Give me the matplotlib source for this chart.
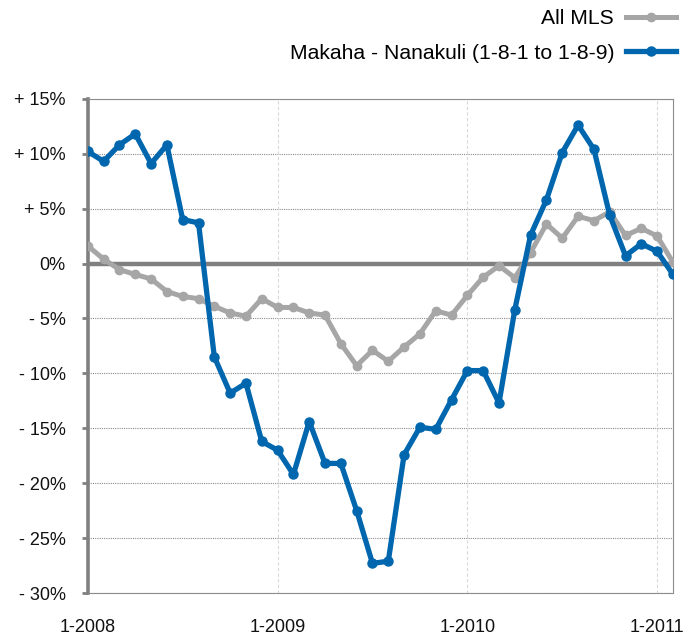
import matplotlib.pyplot as plt
import numpy as np

plt.rcParams['font.family'] = ['Liberation Sans', 'DejaVu Sans']

# monthly values, Jan 2008 .. Feb 2011 (percent change)
all_mls = [1.6, 0.4, -0.55, -1.0, -1.4, -2.55, -3.0, -3.2, -3.9, -4.5,
           -4.8, -3.2, -4.0, -4.0, -4.5, -4.7, -7.3, -9.3, -7.9, -8.9,
           -7.6, -6.4, -4.3, -4.7, -2.9, -1.25, -0.2, -1.3, 1.0, 3.6,
           2.3, 4.3, 3.9, 4.7, 2.55, 3.2, 2.5, 0.1]
makaha = [10.2, 9.3, 10.8, 11.8, 9.1, 10.8, 4.0, 3.7, -8.5, -11.8,
          -10.9, -16.2, -17.0, -19.2, -14.4, -18.2, -18.2, -22.5, -27.3, -27.1,
          -17.4, -14.9, -15.1, -12.4, -9.75, -9.75, -12.7, -4.2, 2.6, 5.8,
          10.1, 12.6, 10.4, 4.4, 0.7, 1.8, 1.1, -1.0]
x_labels = ['1-2008', '1-2009', '1-2010', '1-2011']
y_ticks = [15, 10, 5, 0, -5, -10, -15, -20, -25, -30]
y_labels = ['+ 15%', '+ 10%', '+ 5%', '0%', '- 5%', '- 10%', '- 15%', '- 20%', '- 25%', '- 30%']

months = np.arange(len(makaha))

fig = plt.figure(figsize=(6.86, 6.37), dpi=100)
ax = fig.add_axes([0.128, 0.069, 0.853, 0.776])

# grid
for y in y_ticks:
    ax.axhline(y, color='#8c8c8c', lw=0.8, ls=(0, (1, 1)), zorder=1)
for xv in [12, 24, 36]:
    ax.axvline(xv, color='#d9d9d9', lw=0.8, ls=(0, (3, 2)), zorder=1)
ax.axhline(0, color='#808080', lw=3.2, zorder=2)

ax.plot(months, all_mls, color='#a6a6a6', lw=3.6, marker='o', ms=6,
        label='All MLS', zorder=3)
ax.plot(months, makaha, color='#0066ae', lw=3.8, marker='o', ms=6.5,
        label='Makaha - Nanakuli (1-8-1 to 1-8-9)', zorder=4)

ax.set_xlim(0, 37)
ax.set_ylim(-30, 15)
ax.set_xticks([0, 12, 24, 36])
ax.set_xticklabels(x_labels)
ax.set_yticks(y_ticks)
ax.set_yticklabels(y_labels)
ax.tick_params(axis='x', length=0, pad=19, labelsize=13, colors='#111111')
ax.tick_params(axis='y', length=4, width=2, color='#808080', pad=12,
               labelsize=13, labelcolor='#111111')

ax.spines['left'].set_color('#808080')
ax.spines['left'].set_linewidth(2.6)
for s in ['top', 'right', 'bottom']:
    ax.spines[s].set_color('#8c8c8c')
    ax.spines[s].set_linewidth(0.8)
    ax.spines[s].set_linestyle((0, (1, 1)))

fig.legend(loc='upper right', bbox_to_anchor=(1.0, 1.0), frameon=False,
           markerfirst=False, fontsize=15.2, handlelength=2.4,
           labelspacing=0.72, handletextpad=0.55, borderaxespad=0.05)

fig.savefig('out.png', dpi=100)
